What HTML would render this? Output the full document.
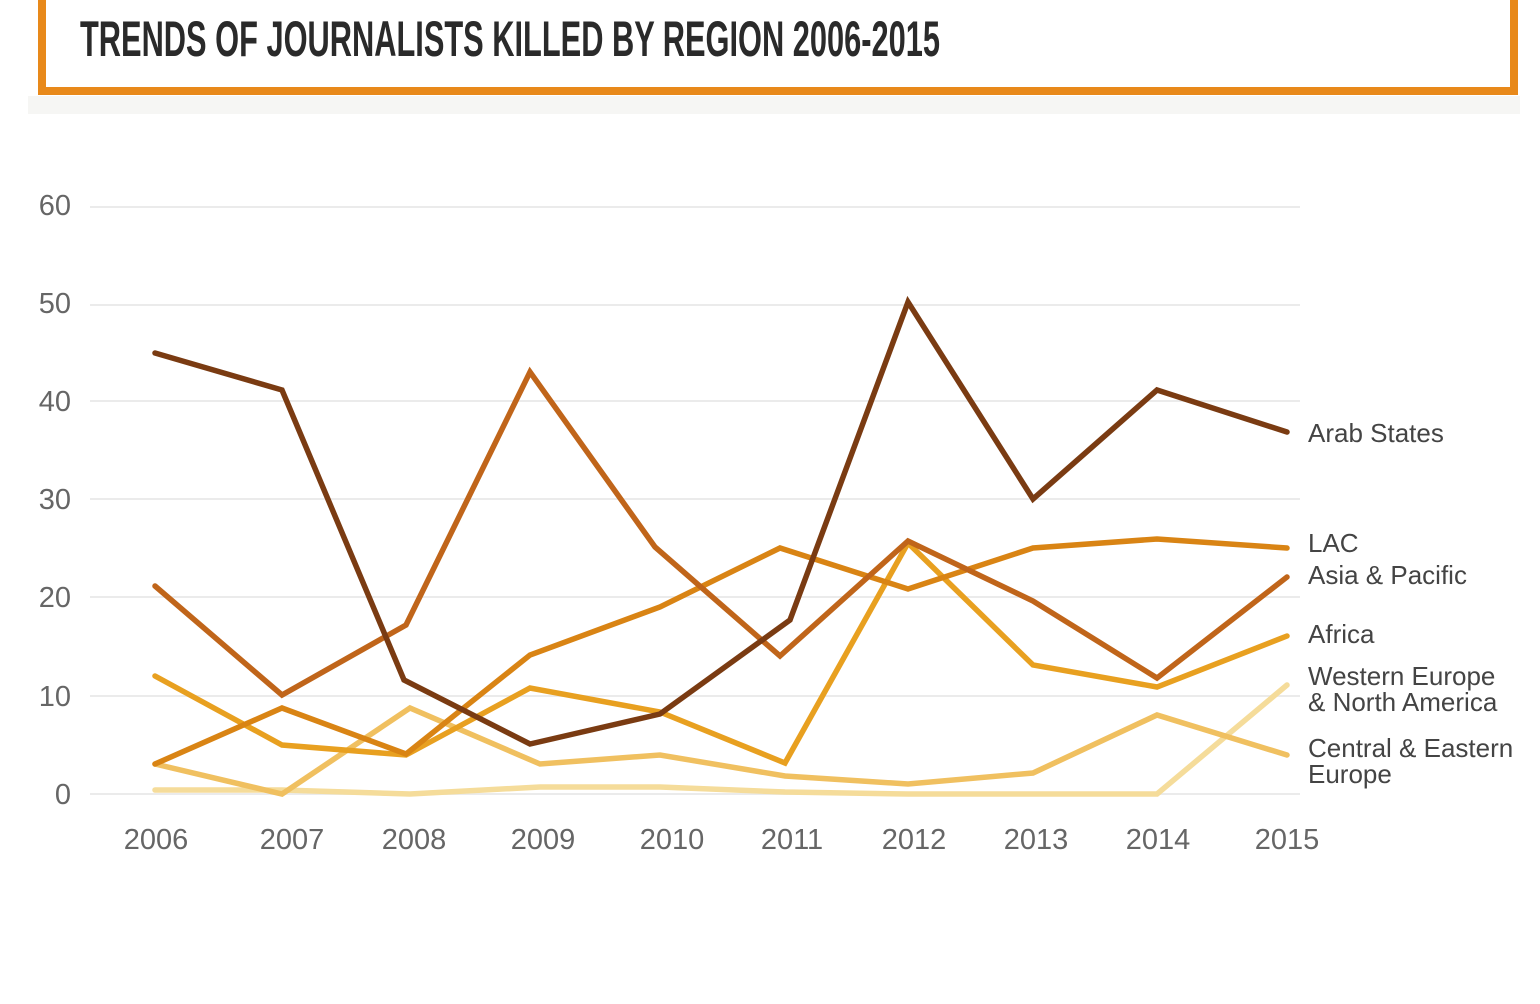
<!DOCTYPE html>
<html><head><meta charset="utf-8"><style>
html,body{margin:0;padding:0;background:#fff;width:1540px;height:1004px;overflow:hidden}
</style></head><body>
<svg width="1540" height="1004" viewBox="0 0 1540 1004" xmlns="http://www.w3.org/2000/svg">
<rect x="28" y="96" width="1492" height="18" fill="#f6f6f4"/>
<path d="M42 0 V91 H1514 V0" fill="none" stroke="#e8891a" stroke-width="8"/>
<text x="80" y="56" font-family="Liberation Sans Narrow, Liberation Sans, sans-serif" font-weight="bold" font-size="50" fill="#2a2a2a" textLength="860" lengthAdjust="spacingAndGlyphs">TRENDS OF JOURNALISTS KILLED BY REGION 2006-2015</text>
<g stroke="#ebebeb" stroke-width="2">
<line x1="90" y1="207" x2="1300" y2="207"/><line x1="90" y1="305" x2="1300" y2="305"/>
<line x1="90" y1="401" x2="1300" y2="401"/><line x1="90" y1="499" x2="1300" y2="499"/>
<line x1="90" y1="597" x2="1300" y2="597"/><line x1="90" y1="696" x2="1300" y2="696"/>
<line x1="90" y1="794" x2="1300" y2="794"/>
</g>
<g font-family="Liberation Sans, sans-serif" font-size="29" fill="#666" text-anchor="end">
<text x="71" y="215">60</text><text x="71" y="313">50</text><text x="71" y="411">40</text>
<text x="71" y="509">30</text><text x="71" y="607">20</text><text x="71" y="706">10</text><text x="71" y="804">0</text>
</g>
<g font-family="Liberation Sans, sans-serif" font-size="29" fill="#666" text-anchor="middle">
<text x="156" y="849">2006</text><text x="292" y="849">2007</text><text x="414" y="849">2008</text>
<text x="543" y="849">2009</text><text x="672" y="849">2010</text><text x="792" y="849">2011</text>
<text x="914" y="849">2012</text><text x="1036" y="849">2013</text><text x="1158" y="849">2014</text><text x="1287" y="849">2015</text>
</g>
<g fill="none" stroke-width="5.5" stroke-linejoin="miter" stroke-linecap="round">
<polyline stroke="#f5dc9a" points="155,790 282,790 410,794 540,787 660,787 785,792 908,794 1033,794 1157,794 1287,685"/>
<polyline stroke="#f0c060" points="155,764 282,794 410,708 540,764 660,755 785,776 908,784 1033,773 1157,715 1287,755"/>
<polyline stroke="#e8a020" points="155,676 282,745 406,755 530,688 660,712 785,763 908,543 1033,665 1157,687 1287,636"/>
<polyline stroke="#d98414" points="155,764 282,708 406,754 530,655 660,607 780,548 908,589 1033,548 1157,539 1287,548"/>
<polyline stroke="#c0651a" points="155,586 282,695 406,625 530,372 655,547 780,656 908,541 1033,601 1157,678 1287,577"/>
<polyline stroke="#7a3b12" points="155,353 282,390 404,680 530,744 660,714 790,620 908,302 1033,499 1157,390 1287,432"/>
</g>
<g font-family="Liberation Sans, sans-serif" font-size="26" fill="#444">
<text x="1308" y="442">Arab States</text>
<text x="1308" y="552">LAC</text>
<text x="1308" y="584">Asia &amp; Pacific</text>
<text x="1308" y="643">Africa</text>
<text x="1308" y="685">Western Europe</text>
<text x="1308" y="711">&amp; North America</text>
<text x="1308" y="757">Central &amp; Eastern</text>
<text x="1308" y="783">Europe</text>
</g>
</svg>
</body></html>
